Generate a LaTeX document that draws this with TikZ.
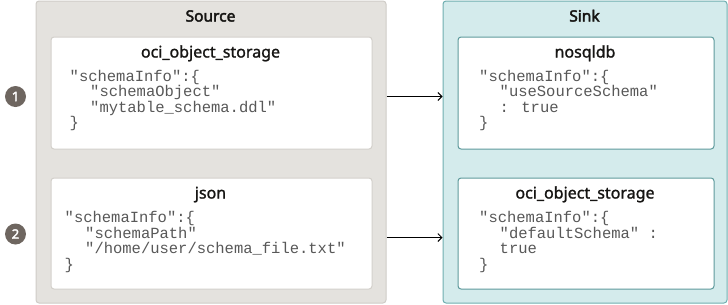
\documentclass[tikz,border=0pt]{standalone}
\usepackage{fontspec}
\setmainfont{Noto Sans}
\newfontfamily\codefont{Liberation Mono}
\newfontfamily\medfont{Noto Sans}[FakeBold=1.3]
\newfontfamily\heavyfont{Noto Sans}[FakeBold=2.6]
\usetikzlibrary{arrows.meta}
\definecolor{srcfill}{HTML}{E4E2DE}
\definecolor{srcline}{HTML}{CFCCC7}
\definecolor{snkfill}{HTML}{D4EBEC}
\definecolor{snkline}{HTML}{6FAEB0}
\definecolor{boxsrcline}{HTML}{D3D0CB}
\definecolor{boxsnkline}{HTML}{5E9A9C}
\definecolor{badgefill}{HTML}{6E6660}
\definecolor{codegray}{HTML}{585858}
\definecolor{titleblack}{HTML}{161513}
\newcommand{\cstrut}{\rule{0pt}{12bp}}
\newcommand{\ind}{\hspace*{20.5bp}}
\begin{document}
\begin{tikzpicture}[x=1bp,y=-1bp,
  panel/.style={rounded corners=3bp, line width=1bp, inner sep=0pt, anchor=north west},
  srcpanel/.style={panel, draw=srcline, fill=srcfill},
  snkpanel/.style={panel, draw=snkline, fill=snkfill},
  srcbox/.style={panel, draw=boxsrcline, fill=white},
  snkbox/.style={panel, draw=boxsnkline, fill=white},
  paneltitle/.style={anchor=base, inner sep=0pt, text=titleblack, font=\fontsize{15.5bp}{18bp}\heavyfont},
  boxtitle/.style={anchor=base, inner sep=0pt, text=titleblack, font=\fontsize{16bp}{18bp}\medfont},
  code/.style={anchor=north west, inner sep=0pt, align=left, text=codegray, font=\fontsize{15.5bp}{15.5bp}\codefont},
  badge/.style={circle, fill=badgefill, minimum size=21bp, inner sep=0pt, text=white, font=\fontsize{13bp}{14bp}\heavyfont},
  arr/.style={line width=0.9bp, draw=black, -{Straight Barb[length=4bp,width=8bp,line width=0.9bp]}}
]
\useasboundingbox (0,0) rectangle (728,304);

% panels
\node[srcpanel, minimum width=350bp, minimum height=302bp] (src) at (35.5,0.5) {};
\node[snkpanel, minimum width=284bp, minimum height=302bp] (snk) at (442.5,0.5) {};

\node[paneltitle] (srct) at (210.5,21.5) {Source};
\node[paneltitle] (snkt) at (584.5,21.5) {Sink};

% inner boxes
\node[srcbox, minimum width=321bp, minimum height=112bp] (s1) at (50.5,36.5) {};
\node[srcbox, minimum width=321bp, minimum height=111bp] (s2) at (50.5,177.5) {};
\node[snkbox, minimum width=256bp, minimum height=112bp] (k1) at (457.5,36.5) {};
\node[snkbox, minimum width=256bp, minimum height=111bp] (k2) at (457.5,177.5) {};

\node[boxtitle] (s1t) at (210.5,57.5) {oci\_object\_storage};
\node[boxtitle] (s2t) at (210.5,198.5) {json};
\node[boxtitle] (k1t) at (585,57.5) {nosqldb};
\node[boxtitle] (k2t) at (585,198.5) {oci\_object\_storage};

% code
\node[code] (s1c) at (69.5,69) {\cstrut"schemaInfo":\{\\\ind"schemaObject"\\\ind"mytable\_schema.ddl"\\\}};
\node[code] (s2c) at (64.5,210.5) {\cstrut"schemaInfo":\{\\\ind"schemaPath"\\\ind"/home/user/schema\_file.txt"\\\}};
\node[code] (k1c) at (479,69) {\cstrut"schemaInfo":\{\\\ind"useSourceSchema"\\\ind: true\\\}};
\node[code] (k2c) at (479,210.5) {\cstrut"schemaInfo":\{\\\ind"defaultSchema" :\\\ind true\\\}};

% badges
\node[badge] (b1) at (15.5,96.5) {1};
\node[badge] (b2) at (15.5,234) {2};

% arrows
\coordinate (a1) at (400,96.5);
\coordinate (a2) at (400,237.5);
\draw[arr] (src.east |- a1) -- (snk.west |- a1);
\draw[arr] (src.east |- a2) -- (snk.west |- a2);
\end{tikzpicture}
\end{document}
